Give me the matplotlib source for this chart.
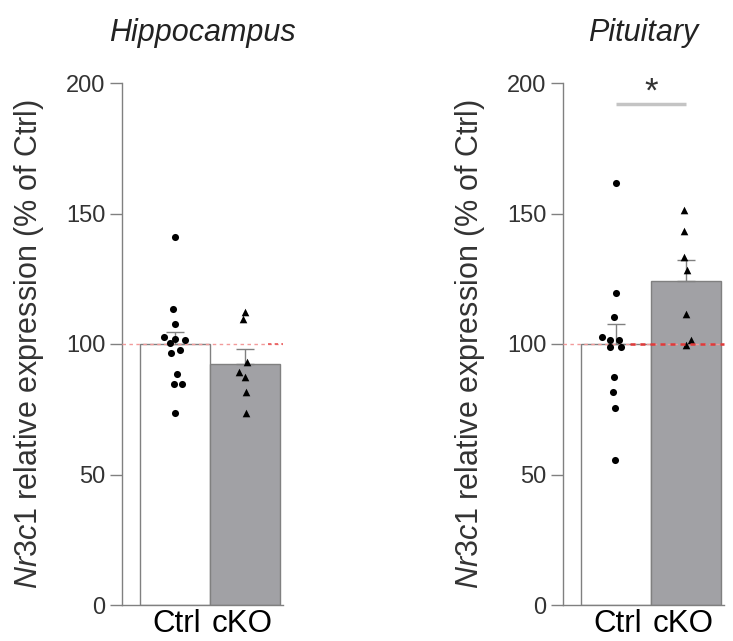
import matplotlib
matplotlib.use("Agg")
import matplotlib.pyplot as plt
import matplotlib.transforms as mtrans
import numpy as np

plt.rcParams['font.family'] = ['Liberation Sans', 'DejaVu Sans']
plt.rcParams['mathtext.fontset'] = 'custom'
plt.rcParams['mathtext.rm'] = 'Liberation Sans'
plt.rcParams['mathtext.it'] = 'Liberation Sans:italic'

# ---------------- data ----------------
groups = ["Ctrl", "cKO"]
titles = ["Hippocampus", "Pituitary"]

hip_ctrl = [141, 113.5, 107.5, 102.6, 101.8, 101.5, 100.5, 97.7, 96.4, 88.5, 84.7, 84.7, 73.7]
hip_cko = [112.4, 109.4, 93.2, 89.4, 87.5, 81.5, 73.7]
hip_means = [100, 92.3]
hip_sem = [4.6, 5.7]

pit_ctrl = [161.5, 119.4, 110.4, 102.6, 101.5, 101.5, 98.7, 98.7, 87.5, 81.5, 75.6, 55.5]
pit_cko = [151.3, 143.3, 133.4, 128.3, 111.5, 101.5, 99.6]
pit_means = [100, 124]
pit_sem = [7.6, 8.2]

yticks = [0, 50, 100, 150, 200]

# jitter offsets (layout only)
hip_ctrl_dx = [0, -0.02, 0, -0.15, 0, 0.14, -0.07, 0.08, -0.05, 0.03, -0.01, 0.10, 0]
hip_cko_dx = [0, -0.02, 0.04, -0.08, 0, 0.02, 0.02]
pit_ctrl_dx = [0, 0, -0.02, -0.2, -0.08, 0.05, -0.08, 0.07, -0.02, -0.04, -0.01, -0.01]
pit_cko_dx = [-0.02, -0.02, -0.02, 0.02, 0, 0.07, 0.01]

GRAY = '#808080'
TXT = '#333333'

fig = plt.figure(figsize=(7.33, 6.41), dpi=100)
ax_l = fig.add_axes([122/733, 36/641, 161/733, 522/641])
ax_r = fig.add_axes([563/733, 36/641, 161/733, 522/641])

panels = [
    (ax_l, titles[0], hip_ctrl, hip_cko, hip_means, hip_sem, hip_ctrl_dx, hip_cko_dx),
    (ax_r, titles[1], pit_ctrl, pit_cko, pit_means, pit_sem, pit_ctrl_dx, pit_cko_dx),
]

x = np.arange(len(groups))
for i, (ax, title, c, k, means, sem, cdx, kdx) in enumerate(panels):
    ax.bar(x, means, width=1.0, color=['white', '#a1a1a5'], edgecolor=GRAY,
           linewidth=1.0, zorder=2)
    ax.errorbar(x, means, yerr=[[0, 0], sem], fmt='none', ecolor=GRAY,
                elinewidth=1.0, capsize=6.5, capthick=1.0, zorder=3)
    ax.scatter(x[0] + np.array(cdx), c, marker='o', s=26, color='black',
               linewidths=0, zorder=4)
    ax.scatter(x[1] + np.array(kdx), k, marker='^', s=30, color='black',
               linewidths=0, zorder=4)
    ax.axhline(100, color='#f29a9a', lw=1.0, ls=(0, (2.5, 2.5)), zorder=3)

    ax.set_xlim(-0.757, 1.55)
    ax.set_ylim(0, 200)
    ax.set_yticks(yticks)
    ax.set_xticks(x)
    ax.set_xticklabels(groups, fontsize=22.5, color='black')
    ax.tick_params(axis='x', length=0, pad=3)
    ax.tick_params(axis='y', length=9, width=1.0, color=GRAY, labelsize=17,
                   labelcolor=TXT, pad=3)
    # nudge the x labels slightly toward each other
    for lab, dx in zip(ax.get_xticklabels(), [1.5, -2.5]):
        lab.set_transform(lab.get_transform() +
                          mtrans.ScaledTranslation(dx / 100, 0, fig.dpi_scale_trans))
    for s in ['top', 'right']:
        ax.spines[s].set_visible(False)
    for s in ['left', 'bottom']:
        ax.spines[s].set_color(GRAY)
        ax.spines[s].set_linewidth(1.0)
    ax.set_ylabel(r"$\it{Nr3c1}$ relative expression (% of Ctrl)", fontsize=22,
                  color=TXT)
    ax.yaxis.set_label_coords(-0.47, 0.5)
    ax.set_title(title, fontsize=22, style='italic', color='#222222', pad=30)

# stronger red reference segments
ax_l.plot([1.33, 1.55], [100, 100], color='#e85a5a', lw=1.2,
          ls=(0, (2, 2)), zorder=5, clip_on=False)
ax_r.plot([0.2, 1.55], [100, 100], color='#e03a3a', lw=1.8,
          ls=(0, (2, 2)), zorder=5, clip_on=False)

# significance bar
ax_r.plot([0, 1], [192, 192], color='#c4c4c4', lw=2.5, solid_capstyle='butt',
          clip_on=False, zorder=5)
ax_r.text(0.5, 196.5, '*', ha='center', va='center', fontsize=25, color=TXT)

fig.savefig('out.png', dpi=100, facecolor='white')
